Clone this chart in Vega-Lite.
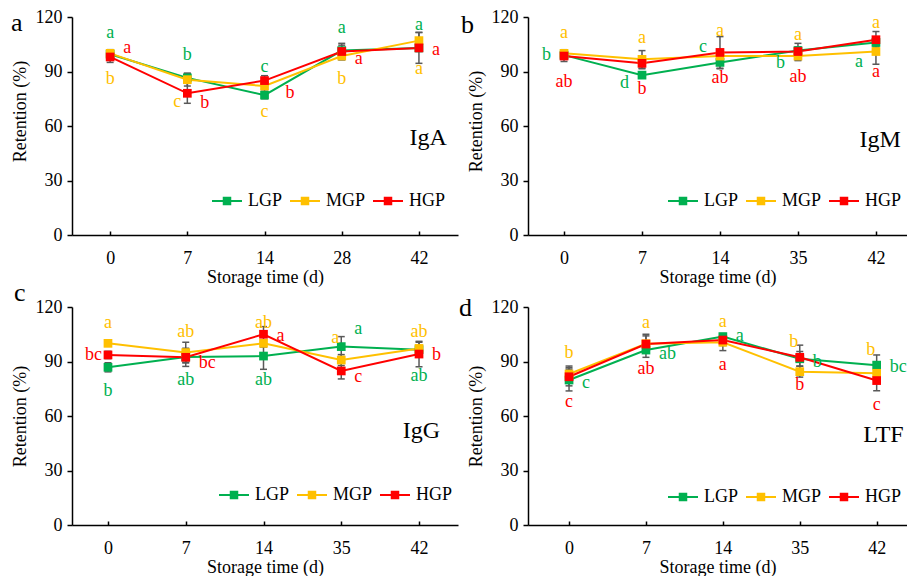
{
  "$schema": "https://vega.github.io/schema/vega-lite/v6.json",
  "background": "white",
  "padding": {"left": 11, "top": 8, "right": 0, "bottom": 0},
  "datasets": {
    "pts": [
      {"p":"IgA","day":0,"g":"LGP","v":99.5,"lo":97,"hi":102},
      {"p":"IgA","day":7,"g":"LGP","v":86.5,"lo":84,"hi":89},
      {"p":"IgA","day":14,"g":"LGP","v":77,"lo":75,"hi":79},
      {"p":"IgA","day":28,"g":"LGP","v":101.5,"lo":98.5,"hi":104.5},
      {"p":"IgA","day":42,"g":"LGP","v":103,"lo":101,"hi":105},
      {"p":"IgM","day":0,"g":"LGP","v":99,"lo":97,"hi":101},
      {"p":"IgM","day":7,"g":"LGP","v":88,"lo":86.5,"hi":89.5},
      {"p":"IgM","day":14,"g":"LGP","v":95,"lo":91.5,"hi":98.5},
      {"p":"IgM","day":35,"g":"LGP","v":101.5,"lo":99.5,"hi":103.5},
      {"p":"IgM","day":42,"g":"LGP","v":106,"lo":104,"hi":108},
      {"p":"IgG","day":0,"g":"LGP","v":86.8,"lo":84.3,"hi":89.3},
      {"p":"IgG","day":7,"g":"LGP","v":92.5,"lo":89.5,"hi":95.5},
      {"p":"IgG","day":14,"g":"LGP","v":93,"lo":85.7,"hi":100.3},
      {"p":"IgG","day":35,"g":"LGP","v":98.2,"lo":92.7,"hi":103.7},
      {"p":"IgG","day":42,"g":"LGP","v":96.5,"lo":94.5,"hi":98.5},
      {"p":"LTF","day":0,"g":"LGP","v":79.8,"lo":73.8,"hi":85.8},
      {"p":"LTF","day":7,"g":"LGP","v":96.3,"lo":92.3,"hi":100.3},
      {"p":"LTF","day":14,"g":"LGP","v":103.7,"lo":102,"hi":105.4},
      {"p":"LTF","day":35,"g":"LGP","v":91.5,"lo":87.5,"hi":95.5},
      {"p":"LTF","day":42,"g":"LGP","v":88,"lo":82.4,"hi":93.6},
      {"p":"IgA","day":0,"g":"MGP","v":100,"lo":98,"hi":102},
      {"p":"IgA","day":7,"g":"MGP","v":85.5,"lo":82,"hi":89},
      {"p":"IgA","day":14,"g":"MGP","v":82,"lo":79,"hi":85},
      {"p":"IgA","day":28,"g":"MGP","v":98.5,"lo":96.5,"hi":100.5},
      {"p":"IgA","day":42,"g":"MGP","v":107,"lo":102.5,"hi":111.5},
      {"p":"IgM","day":0,"g":"MGP","v":100,"lo":98,"hi":102},
      {"p":"IgM","day":7,"g":"MGP","v":96.7,"lo":91.9,"hi":101.5},
      {"p":"IgM","day":14,"g":"MGP","v":98.5,"lo":96.5,"hi":100.5},
      {"p":"IgM","day":35,"g":"MGP","v":98.5,"lo":96,"hi":101},
      {"p":"IgM","day":42,"g":"MGP","v":101,"lo":94,"hi":108},
      {"p":"IgG","day":0,"g":"MGP","v":100,"lo":98.5,"hi":101.5},
      {"p":"IgG","day":7,"g":"MGP","v":94.9,"lo":89.2,"hi":100.6},
      {"p":"IgG","day":14,"g":"MGP","v":100,"lo":98,"hi":102},
      {"p":"IgG","day":35,"g":"MGP","v":90.8,"lo":87.8,"hi":93.8},
      {"p":"IgG","day":42,"g":"MGP","v":97.2,"lo":93.8,"hi":100.6},
      {"p":"LTF","day":0,"g":"MGP","v":83.1,"lo":78.7,"hi":87.5},
      {"p":"LTF","day":7,"g":"MGP","v":99.8,"lo":94.6,"hi":105},
      {"p":"LTF","day":14,"g":"MGP","v":100.6,"lo":96,"hi":105.2},
      {"p":"LTF","day":35,"g":"MGP","v":84.4,"lo":81.4,"hi":87.4},
      {"p":"LTF","day":42,"g":"MGP","v":83.5,"lo":80.5,"hi":86.5},
      {"p":"IgA","day":0,"g":"HGP","v":98,"lo":95,"hi":101},
      {"p":"IgA","day":7,"g":"HGP","v":78,"lo":72.5,"hi":83.5},
      {"p":"IgA","day":14,"g":"HGP","v":85,"lo":82.3,"hi":87.7},
      {"p":"IgA","day":28,"g":"HGP","v":101,"lo":96.5,"hi":105.5},
      {"p":"IgA","day":42,"g":"HGP","v":103,"lo":94.5,"hi":111.5},
      {"p":"IgM","day":0,"g":"HGP","v":98.5,"lo":95.5,"hi":101.5},
      {"p":"IgM","day":7,"g":"HGP","v":94.5,"lo":91.5,"hi":97.5},
      {"p":"IgM","day":14,"g":"HGP","v":100.5,"lo":91.8,"hi":109.2},
      {"p":"IgM","day":35,"g":"HGP","v":101,"lo":96.5,"hi":105.5},
      {"p":"IgM","day":42,"g":"HGP","v":107.5,"lo":103,"hi":112},
      {"p":"IgG","day":0,"g":"HGP","v":93.6,"lo":91.6,"hi":95.6},
      {"p":"IgG","day":7,"g":"HGP","v":92.3,"lo":87.3,"hi":97.3},
      {"p":"IgG","day":14,"g":"HGP","v":105,"lo":100.8,"hi":109.2},
      {"p":"IgG","day":35,"g":"HGP","v":84.8,"lo":80.4,"hi":89.2},
      {"p":"IgG","day":42,"g":"HGP","v":94.1,"lo":87.1,"hi":101.1},
      {"p":"LTF","day":0,"g":"HGP","v":81.6,"lo":76.6,"hi":86.6},
      {"p":"LTF","day":7,"g":"HGP","v":99.6,"lo":95.1,"hi":104.1},
      {"p":"LTF","day":14,"g":"HGP","v":101.8,"lo":98.8,"hi":104.8},
      {"p":"LTF","day":35,"g":"HGP","v":92.3,"lo":85.6,"hi":99},
      {"p":"LTF","day":42,"g":"HGP","v":79.5,"lo":73.9,"hi":85.1}
    ],
    "ann": [
      {"p":"IgA","day":0,"g":"LGP","t":"a","v":111,"s":"c"},
      {"p":"IgA","day":0,"g":"HGP","t":"a","v":103,"s":"r"},
      {"p":"IgA","day":0,"g":"MGP","t":"b","v":86,"s":"c"},
      {"p":"IgA","day":7,"g":"LGP","t":"b","v":99,"s":"c"},
      {"p":"IgA","day":7,"g":"MGP","t":"c","v":73.4,"s":"ln"},
      {"p":"IgA","day":7,"g":"HGP","t":"b","v":72.8,"s":"r"},
      {"p":"IgA","day":14,"g":"LGP","t":"c","v":92.3,"s":"c"},
      {"p":"IgA","day":14,"g":"MGP","t":"c","v":67.9,"s":"c"},
      {"p":"IgA","day":14,"g":"HGP","t":"b","v":78.3,"s":"rr"},
      {"p":"IgA","day":28,"g":"LGP","t":"a","v":113.8,"s":"c"},
      {"p":"IgA","day":28,"g":"HGP","t":"a","v":96.7,"s":"r"},
      {"p":"IgA","day":28,"g":"MGP","t":"b","v":85.7,"s":"c"},
      {"p":"IgA","day":42,"g":"LGP","t":"a","v":115.6,"s":"c"},
      {"p":"IgA","day":42,"g":"HGP","t":"a","v":101.8,"s":"r"},
      {"p":"IgA","day":42,"g":"MGP","t":"a","v":91.2,"s":"c"},
      {"p":"IgM","day":0,"g":"MGP","t":"a","v":111.4,"s":"c"},
      {"p":"IgM","day":0,"g":"LGP","t":"b","v":99,"s":"l"},
      {"p":"IgM","day":0,"g":"HGP","t":"ab","v":84.4,"s":"c"},
      {"p":"IgM","day":7,"g":"MGP","t":"a","v":108.3,"s":"c"},
      {"p":"IgM","day":7,"g":"LGP","t":"d","v":83.5,"s":"l"},
      {"p":"IgM","day":7,"g":"HGP","t":"b","v":80.2,"s":"c"},
      {"p":"IgM","day":14,"g":"MGP","t":"a","v":112.5,"s":"c"},
      {"p":"IgM","day":14,"g":"LGP","t":"c","v":103.3,"s":"l"},
      {"p":"IgM","day":14,"g":"HGP","t":"ab","v":86.2,"s":"c"},
      {"p":"IgM","day":35,"g":"MGP","t":"a","v":110,"s":"c"},
      {"p":"IgM","day":35,"g":"LGP","t":"b","v":94.5,"s":"l"},
      {"p":"IgM","day":35,"g":"HGP","t":"ab","v":87.2,"s":"c"},
      {"p":"IgM","day":42,"g":"MGP","t":"a","v":116.5,"s":"c"},
      {"p":"IgM","day":42,"g":"LGP","t":"a","v":95.4,"s":"l"},
      {"p":"IgM","day":42,"g":"HGP","t":"a","v":89.9,"s":"c"},
      {"p":"IgG","day":0,"g":"MGP","t":"a","v":111.4,"s":"c"},
      {"p":"IgG","day":0,"g":"HGP","t":"bc","v":93.6,"s":"ln"},
      {"p":"IgG","day":0,"g":"LGP","t":"b","v":73.9,"s":"c"},
      {"p":"IgG","day":7,"g":"MGP","t":"ab","v":106,"s":"c"},
      {"p":"IgG","day":7,"g":"HGP","t":"bc","v":89.4,"s":"r"},
      {"p":"IgG","day":7,"g":"LGP","t":"ab","v":79.8,"s":"c"},
      {"p":"IgG","day":14,"g":"MGP","t":"ab","v":111.4,"s":"c"},
      {"p":"IgG","day":14,"g":"HGP","t":"a","v":104,"s":"r"},
      {"p":"IgG","day":14,"g":"LGP","t":"ab","v":79.8,"s":"c"},
      {"p":"IgG","day":35,"g":"MGP","t":"a","v":102.8,"s":"cl"},
      {"p":"IgG","day":35,"g":"LGP","t":"a","v":107.7,"s":"r"},
      {"p":"IgG","day":35,"g":"HGP","t":"c","v":81.6,"s":"r"},
      {"p":"IgG","day":42,"g":"MGP","t":"ab","v":106,"s":"c"},
      {"p":"IgG","day":42,"g":"HGP","t":"b","v":93.6,"s":"r"},
      {"p":"IgG","day":42,"g":"LGP","t":"ab","v":82,"s":"c"},
      {"p":"LTF","day":0,"g":"MGP","t":"b","v":94.9,"s":"c"},
      {"p":"LTF","day":0,"g":"LGP","t":"c","v":78.4,"s":"r"},
      {"p":"LTF","day":0,"g":"HGP","t":"c","v":67.9,"s":"c"},
      {"p":"LTF","day":7,"g":"MGP","t":"a","v":111.4,"s":"c"},
      {"p":"LTF","day":7,"g":"LGP","t":"ab","v":94.1,"s":"r"},
      {"p":"LTF","day":7,"g":"HGP","t":"ab","v":85.7,"s":"c"},
      {"p":"LTF","day":14,"g":"MGP","t":"a","v":111.9,"s":"c"},
      {"p":"LTF","day":14,"g":"LGP","t":"a","v":104,"s":"r"},
      {"p":"LTF","day":14,"g":"HGP","t":"a","v":88,"s":"c"},
      {"p":"LTF","day":35,"g":"MGP","t":"b","v":100.9,"s":"cl"},
      {"p":"LTF","day":35,"g":"LGP","t":"b","v":89.9,"s":"r"},
      {"p":"LTF","day":35,"g":"HGP","t":"b","v":77.1,"s":"c"},
      {"p":"LTF","day":42,"g":"MGP","t":"b","v":96.3,"s":"cl"},
      {"p":"LTF","day":42,"g":"LGP","t":"bc","v":87.1,"s":"r"},
      {"p":"LTF","day":42,"g":"HGP","t":"c","v":66,"s":"c"}
    ],
    "names": [
      {"p":"IgA","day":42,"v":49.5,"name":"IgA"},
      {"p":"IgM","day":42,"v":48.6,"name":"IgM"},
      {"p":"IgG","day":42,"v":47.7,"name":"IgG"},
      {"p":"LTF","day":42,"v":45.9,"name":"LTF"}
    ]
  },
  "config": {
    "view": {"stroke": null},
    "font": "Liberation Serif",
    "axis": {"labelFont": "Liberation Serif", "labelFontSize": 18, "labelColor": "black", "titleFont": "Liberation Serif", "titleFontSize": 18, "titleFontWeight": "normal", "titleColor": "black", "domainColor": "black", "domainWidth": 1.5, "tickColor": "black", "tickWidth": 1.5, "grid": false},
    "axisX": {"labelAngle": 0, "tickSize": -4, "labelPadding": 18, "titlePadding": 1},
    "axisY": {"tickSize": 5, "labelPadding": 5, "titlePadding": 6},
    "legend": {"orient": "none", "direction": "horizontal", "labelFont": "Liberation Serif", "labelFontSize": 18, "labelColor": "black", "symbolType": "M-3,-0.2L3,-0.2L3,0.2L-3,0.2Z M-0.85,-0.85L0.85,-0.85L0.85,0.85L-0.85,0.85Z", "symbolSize": 100, "symbolStrokeWidth": 0, "labelOffset": 12, "columnPadding": 7, "padding": 0},
    "text": {"font": "Liberation Serif", "fontSize": 18}
  },
  "columns": 2,
  "spacing": {"row": 72, "column": 70},
  "bounds": "flush",
  "resolve": {"scale": {"x": "independent", "y": "independent"}, "legend": {"color": "independent"}},
  "concat": [
    {
      "width": 386, "height": 218,
      "title": {"text": "a", "anchor": "start", "frame": "group", "dx": -61, "offset": -49, "baseline": "alphabetic", "fontSize": 26, "fontWeight": "normal", "font": "Liberation Serif", "color": "black"},
      "data": {"name": "pts"},
      "transform": [{"filter": "datum.p == 'IgA'"}],
      "encoding": {
        "x": {"field": "day", "type": "ordinal", "title": "Storage time (d)", "scale": {"type": "point", "domain": [0, 7, 14, 28, 42], "padding": 0.5, "align": 0.494}},
        "y": {"field": "v", "type": "quantitative", "title": "Retention (%)", "scale": {"domain": [0, 120], "nice": false}, "axis": {"values": [0, 30, 60, 90, 120], "titleY": 94}}
      },
      "layer": [
        {"mark": {"type": "rule", "color": "#595959", "strokeWidth": 1.5}, "encoding": {"y": {"field": "lo", "type": "quantitative", "title": "Retention (%)", "scale": {"domain": [0, 120], "nice": false}}, "y2": {"field": "hi"}}},
        {"mark": {"type": "tick", "orient": "horizontal", "color": "#595959", "thickness": 1.5, "size": 7, "opacity": 1}, "encoding": {"y": {"field": "lo", "type": "quantitative", "title": "Retention (%)", "scale": {"domain": [0, 120], "nice": false}}}},
        {"mark": {"type": "tick", "orient": "horizontal", "color": "#595959", "thickness": 1.5, "size": 7, "opacity": 1}, "encoding": {"y": {"field": "hi", "type": "quantitative", "title": "Retention (%)", "scale": {"domain": [0, 120], "nice": false}}}},
        {"mark": {"type": "line", "strokeWidth": 2}, "encoding": {"color": {"field": "g", "type": "nominal", "scale": {"domain": ["LGP", "MGP", "HGP"], "range": ["#00B050", "#FFC000", "#FF0000"]}, "legend": {"orient": "none", "title": null, "legendX": 146, "legendY": 175, "encode": {"symbols": {"update": {"fill": {"scale": "color", "field": "value"}, "strokeWidth": {"value": 0}, "opacity": {"value": 1}}}}}}}},
        {"mark": {"type": "point", "shape": "square", "filled": true, "size": 76, "opacity": 1}, "encoding": {"color": {"field": "g", "type": "nominal", "scale": {"domain": ["LGP", "MGP", "HGP"], "range": ["#00B050", "#FFC000", "#FF0000"]}, "legend": {"orient": "none", "title": null, "legendX": 146, "legendY": 175, "encode": {"symbols": {"update": {"fill": {"scale": "color", "field": "value"}, "strokeWidth": {"value": 0}, "opacity": {"value": 1}}}}}}}},
        {"data": {"name": "ann"}, "transform": [{"filter": "datum.p == 'IgA' && datum.s == 'c'"}], "mark": {"type": "text", "baseline": "middle", "align": "center", "clip": true}, "encoding": {"text": {"field": "t"}, "color": {"field": "g", "type": "nominal", "legend": null}}},
        {"data": {"name": "ann"}, "transform": [{"filter": "datum.p == 'IgA' && datum.s == 'r'"}], "mark": {"type": "text", "baseline": "middle", "align": "left", "dx": 13, "clip": true}, "encoding": {"text": {"field": "t"}, "color": {"field": "g", "type": "nominal", "legend": null}}},
        {"data": {"name": "ann"}, "transform": [{"filter": "datum.p == 'IgA' && datum.s == 'rr'"}], "mark": {"type": "text", "baseline": "middle", "align": "left", "dx": 21, "clip": true}, "encoding": {"text": {"field": "t"}, "color": {"field": "g", "type": "nominal", "legend": null}}},
        {"data": {"name": "ann"}, "transform": [{"filter": "datum.p == 'IgA' && datum.s == 'ln'"}], "mark": {"type": "text", "baseline": "middle", "align": "right", "dx": -6, "clip": true}, "encoding": {"text": {"field": "t"}, "color": {"field": "g", "type": "nominal", "legend": null}}},
        {"data": {"name": "names"}, "transform": [{"filter": "datum.p == 'IgA'"}], "mark": {"type": "text", "fontSize": 24, "align": "right", "baseline": "alphabetic", "dx": 28, "color": "black"}, "encoding": {"text": {"field": "name"}}}
      ]
    },
    {
      "width": 379, "height": 218,
      "title": {"text": "b", "anchor": "start", "frame": "group", "dx": -67, "offset": -51, "baseline": "alphabetic", "fontSize": 26, "fontWeight": "normal", "font": "Liberation Serif", "color": "black"},
      "data": {"name": "pts"},
      "transform": [{"filter": "datum.p == 'IgM'"}],
      "encoding": {
        "x": {"field": "day", "type": "ordinal", "title": "Storage time (d)", "scale": {"type": "point", "domain": [0, 7, 14, 35, 42], "padding": 0.43, "align": 0.537}},
        "y": {"field": "v", "type": "quantitative", "title": "Retention (%)", "scale": {"domain": [0, 120], "nice": false}, "axis": {"values": [0, 30, 60, 90, 120], "titleY": 104}}
      },
      "layer": [
        {"mark": {"type": "rule", "color": "#595959", "strokeWidth": 1.5}, "encoding": {"y": {"field": "lo", "type": "quantitative", "title": "Retention (%)", "scale": {"domain": [0, 120], "nice": false}}, "y2": {"field": "hi"}}},
        {"mark": {"type": "tick", "orient": "horizontal", "color": "#595959", "thickness": 1.5, "size": 7, "opacity": 1}, "encoding": {"y": {"field": "lo", "type": "quantitative", "title": "Retention (%)", "scale": {"domain": [0, 120], "nice": false}}}},
        {"mark": {"type": "tick", "orient": "horizontal", "color": "#595959", "thickness": 1.5, "size": 7, "opacity": 1}, "encoding": {"y": {"field": "hi", "type": "quantitative", "title": "Retention (%)", "scale": {"domain": [0, 120], "nice": false}}}},
        {"mark": {"type": "line", "strokeWidth": 2}, "encoding": {"color": {"field": "g", "type": "nominal", "scale": {"domain": ["LGP", "MGP", "HGP"], "range": ["#00B050", "#FFC000", "#FF0000"]}, "legend": {"orient": "none", "title": null, "legendX": 146, "legendY": 175, "encode": {"symbols": {"update": {"fill": {"scale": "color", "field": "value"}, "strokeWidth": {"value": 0}, "opacity": {"value": 1}}}}}}}},
        {"mark": {"type": "point", "shape": "square", "filled": true, "size": 76, "opacity": 1}, "encoding": {"color": {"field": "g", "type": "nominal", "scale": {"domain": ["LGP", "MGP", "HGP"], "range": ["#00B050", "#FFC000", "#FF0000"]}, "legend": {"orient": "none", "title": null, "legendX": 146, "legendY": 175, "encode": {"symbols": {"update": {"fill": {"scale": "color", "field": "value"}, "strokeWidth": {"value": 0}, "opacity": {"value": 1}}}}}}}},
        {"data": {"name": "ann"}, "transform": [{"filter": "datum.p == 'IgM' && datum.s == 'c'"}], "mark": {"type": "text", "baseline": "middle", "align": "center", "clip": true}, "encoding": {"text": {"field": "t"}, "color": {"field": "g", "type": "nominal", "legend": null}}},
        {"data": {"name": "ann"}, "transform": [{"filter": "datum.p == 'IgM' && datum.s == 'l'"}], "mark": {"type": "text", "baseline": "middle", "align": "right", "dx": -13, "clip": true}, "encoding": {"text": {"field": "t"}, "color": {"field": "g", "type": "nominal", "legend": null}}},
        {"data": {"name": "names"}, "transform": [{"filter": "datum.p == 'IgM'"}], "mark": {"type": "text", "fontSize": 24, "align": "right", "baseline": "alphabetic", "dx": 25, "color": "black"}, "encoding": {"text": {"field": "name"}}}
      ]
    },
    {
      "width": 386, "height": 218,
      "title": {"text": "c", "anchor": "start", "frame": "group", "dx": -58, "offset": -29, "baseline": "alphabetic", "fontSize": 26, "fontWeight": "normal", "font": "Liberation Serif", "color": "black"},
      "data": {"name": "pts"},
      "transform": [{"filter": "datum.p == 'IgG'"}],
      "encoding": {
        "x": {"field": "day", "type": "ordinal", "title": "Storage time (d)", "scale": {"type": "point", "domain": [0, 7, 14, 35, 42], "padding": 0.482, "align": 0.48}},
        "y": {"field": "v", "type": "quantitative", "title": "Retention (%)", "scale": {"domain": [0, 120], "nice": false}, "axis": {"values": [0, 30, 60, 90, 120]}}
      },
      "layer": [
        {"mark": {"type": "rule", "color": "#595959", "strokeWidth": 1.5}, "encoding": {"y": {"field": "lo", "type": "quantitative", "title": "Retention (%)", "scale": {"domain": [0, 120], "nice": false}}, "y2": {"field": "hi"}}},
        {"mark": {"type": "tick", "orient": "horizontal", "color": "#595959", "thickness": 1.5, "size": 7, "opacity": 1}, "encoding": {"y": {"field": "lo", "type": "quantitative", "title": "Retention (%)", "scale": {"domain": [0, 120], "nice": false}}}},
        {"mark": {"type": "tick", "orient": "horizontal", "color": "#595959", "thickness": 1.5, "size": 7, "opacity": 1}, "encoding": {"y": {"field": "hi", "type": "quantitative", "title": "Retention (%)", "scale": {"domain": [0, 120], "nice": false}}}},
        {"mark": {"type": "line", "strokeWidth": 2}, "encoding": {"color": {"field": "g", "type": "nominal", "scale": {"domain": ["LGP", "MGP", "HGP"], "range": ["#00B050", "#FFC000", "#FF0000"]}, "legend": {"orient": "none", "title": null, "legendX": 153, "legendY": 179, "encode": {"symbols": {"update": {"fill": {"scale": "color", "field": "value"}, "strokeWidth": {"value": 0}, "opacity": {"value": 1}}}}}}}},
        {"mark": {"type": "point", "shape": "square", "filled": true, "size": 76, "opacity": 1}, "encoding": {"color": {"field": "g", "type": "nominal", "scale": {"domain": ["LGP", "MGP", "HGP"], "range": ["#00B050", "#FFC000", "#FF0000"]}, "legend": {"orient": "none", "title": null, "legendX": 153, "legendY": 179, "encode": {"symbols": {"update": {"fill": {"scale": "color", "field": "value"}, "strokeWidth": {"value": 0}, "opacity": {"value": 1}}}}}}}},
        {"data": {"name": "ann"}, "transform": [{"filter": "datum.p == 'IgG' && datum.s == 'c'"}], "mark": {"type": "text", "baseline": "middle", "align": "center", "clip": true}, "encoding": {"text": {"field": "t"}, "color": {"field": "g", "type": "nominal", "legend": null}}},
        {"data": {"name": "ann"}, "transform": [{"filter": "datum.p == 'IgG' && datum.s == 'r'"}], "mark": {"type": "text", "baseline": "middle", "align": "left", "dx": 13, "clip": true}, "encoding": {"text": {"field": "t"}, "color": {"field": "g", "type": "nominal", "legend": null}}},
        {"data": {"name": "ann"}, "transform": [{"filter": "datum.p == 'IgG' && datum.s == 'ln'"}], "mark": {"type": "text", "baseline": "middle", "align": "right", "dx": -6, "clip": true}, "encoding": {"text": {"field": "t"}, "color": {"field": "g", "type": "nominal", "legend": null}}},
        {"data": {"name": "ann"}, "transform": [{"filter": "datum.p == 'IgG' && datum.s == 'cl'"}], "mark": {"type": "text", "baseline": "middle", "align": "center", "dx": -6, "clip": true}, "encoding": {"text": {"field": "t"}, "color": {"field": "g", "type": "nominal", "legend": null}}},
        {"data": {"name": "names"}, "transform": [{"filter": "datum.p == 'IgG'"}], "mark": {"type": "text", "fontSize": 24, "align": "right", "baseline": "alphabetic", "dx": 21, "color": "black"}, "encoding": {"text": {"field": "name"}}}
      ]
    },
    {
      "width": 379, "height": 218,
      "title": {"text": "d", "anchor": "start", "frame": "group", "dx": -69, "offset": -44, "baseline": "alphabetic", "fontSize": 26, "fontWeight": "normal", "font": "Liberation Serif", "color": "black"},
      "data": {"name": "pts"},
      "transform": [{"filter": "datum.p == 'LTF'"}],
      "encoding": {
        "x": {"field": "day", "type": "ordinal", "title": "Storage time (d)", "scale": {"type": "point", "domain": [0, 7, 14, 35, 42], "padding": 0.464, "align": 0.575}},
        "y": {"field": "v", "type": "quantitative", "title": "Retention (%)", "scale": {"domain": [0, 120], "nice": false}, "axis": {"values": [0, 30, 60, 90, 120]}}
      },
      "layer": [
        {"mark": {"type": "rule", "color": "#595959", "strokeWidth": 1.5}, "encoding": {"y": {"field": "lo", "type": "quantitative", "title": "Retention (%)", "scale": {"domain": [0, 120], "nice": false}}, "y2": {"field": "hi"}}},
        {"mark": {"type": "tick", "orient": "horizontal", "color": "#595959", "thickness": 1.5, "size": 7, "opacity": 1}, "encoding": {"y": {"field": "lo", "type": "quantitative", "title": "Retention (%)", "scale": {"domain": [0, 120], "nice": false}}}},
        {"mark": {"type": "tick", "orient": "horizontal", "color": "#595959", "thickness": 1.5, "size": 7, "opacity": 1}, "encoding": {"y": {"field": "hi", "type": "quantitative", "title": "Retention (%)", "scale": {"domain": [0, 120], "nice": false}}}},
        {"mark": {"type": "line", "strokeWidth": 2}, "encoding": {"color": {"field": "g", "type": "nominal", "scale": {"domain": ["LGP", "MGP", "HGP"], "range": ["#00B050", "#FFC000", "#FF0000"]}, "legend": {"orient": "none", "title": null, "legendX": 146, "legendY": 181, "encode": {"symbols": {"update": {"fill": {"scale": "color", "field": "value"}, "strokeWidth": {"value": 0}, "opacity": {"value": 1}}}}}}}},
        {"mark": {"type": "point", "shape": "square", "filled": true, "size": 76, "opacity": 1}, "encoding": {"color": {"field": "g", "type": "nominal", "scale": {"domain": ["LGP", "MGP", "HGP"], "range": ["#00B050", "#FFC000", "#FF0000"]}, "legend": {"orient": "none", "title": null, "legendX": 146, "legendY": 181, "encode": {"symbols": {"update": {"fill": {"scale": "color", "field": "value"}, "strokeWidth": {"value": 0}, "opacity": {"value": 1}}}}}}}},
        {"data": {"name": "ann"}, "transform": [{"filter": "datum.p == 'LTF' && datum.s == 'c'"}], "mark": {"type": "text", "baseline": "middle", "align": "center", "clip": true}, "encoding": {"text": {"field": "t"}, "color": {"field": "g", "type": "nominal", "legend": null}}},
        {"data": {"name": "ann"}, "transform": [{"filter": "datum.p == 'LTF' && datum.s == 'r'"}], "mark": {"type": "text", "baseline": "middle", "align": "left", "dx": 13, "clip": true}, "encoding": {"text": {"field": "t"}, "color": {"field": "g", "type": "nominal", "legend": null}}},
        {"data": {"name": "ann"}, "transform": [{"filter": "datum.p == 'LTF' && datum.s == 'cl'"}], "mark": {"type": "text", "baseline": "middle", "align": "center", "dx": -6, "clip": true}, "encoding": {"text": {"field": "t"}, "color": {"field": "g", "type": "nominal", "legend": null}}},
        {"data": {"name": "names"}, "transform": [{"filter": "datum.p == 'LTF'"}], "mark": {"type": "text", "fontSize": 24, "align": "right", "baseline": "alphabetic", "dx": 27, "color": "black"}, "encoding": {"text": {"field": "name"}}}
      ]
    }
  ]
}
